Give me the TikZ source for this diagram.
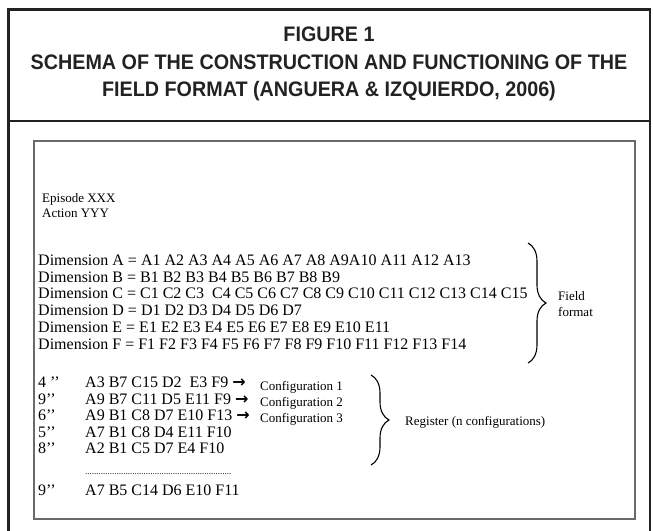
\documentclass[tikz,border=0pt]{standalone}
\usepackage{fontspec}
\setmainfont{Liberation Serif}
\newfontfamily\titlefont[FakeStretch=0.94]{Liberation Sans}
\newfontfamily\arrowfont{DejaVu Sans}
\usetikzlibrary{decorations.pathreplacing}
\definecolor{framec}{HTML}{222222}
\definecolor{boxc}{HTML}{6A6A6A}
\begin{document}
\begin{tikzpicture}[x=1pt,y=-1pt,
  title/.style={inner sep=0pt,anchor=base,font=\titlefont\bfseries\fontsize{21}{21}\selectfont,text=framec},
  dimtext/.style={inner sep=0pt,anchor=base west,font=\fontsize{16}{17}\selectfont},
  smalltext/.style={inner sep=0pt,anchor=base west,font=\fontsize{13}{14}\selectfont},
  bracestyle/.style={decorate,decoration={brace,amplitude=18pt},line width=1.1pt}]
\useasboundingbox (0,0) rectangle (653,530);
% outer frame
\draw[framec,line width=2.6pt] (8.5,540) -- (8.5,9.5) -- (650,9.5) -- (650,540);
\draw[framec,line width=2.6pt] (8.5,121) -- (650,121);
% inner box
\draw[boxc,line width=1.5pt] (34,141) rectangle (635,519);
% title
\node[title] (t1) at (329,41) {FIGURE 1};
\node[title] (t2) at (329,69) {SCHEMA OF THE CONSTRUCTION AND FUNCTIONING OF THE};
\node[title] (t3) at (329,96) {FIELD FORMAT (ANGUERA \& IZQUIERDO, 2006)};
% episode
\node[smalltext] (ep) at (42,202) {Episode XXX};
\node[smalltext] (ac) at (42,217) {Action YYY};
% dimensions
\node[dimtext] (da) at (38,265) {Dimension A = A1 A2 A3 A4 A5 A6 A7 A8 A9A10 A11 A12 A13};
\node[dimtext] (db) at (38,282) {Dimension B = B1 B2 B3 B4 B5 B6 B7 B8 B9};
\node[dimtext] (dc) at (38,298) {Dimension C = C1 C2 C3~ C4 C5 C6 C7 C8 C9 C10 C11 C12 C13 C14 C15};
\node[dimtext] (dd) at (38,315) {Dimension D = D1 D2 D3 D4 D5 D6 D7};
\node[dimtext] (de) at (38,332) {Dimension E = E1 E2 E3 E4 E5 E6 E7 E8 E9 E10 E11};
\node[dimtext] (df) at (38,349) {Dimension F = F1 F2 F3 F4 F5 F6 F7 F8 F9 F10 F11 F12 F13 F14};
% field brace
\coordinate (fb1) at (528,243);
\coordinate (fb2) at (528,363);
\draw[bracestyle] (fb1) -- (fb2);
\node[smalltext] (ff1) at (558,300) {Field};
\node[smalltext] (ff2) at (558,316) {format};
% register rows
\node[dimtext] (r1t) at (38,387) {4 ’’};
\node[dimtext] (r2t) at (38,404) {9’’};
\node[dimtext] (r3t) at (38,420) {6’’};
\node[dimtext] (r4t) at (38,437) {5’’};
\node[dimtext] (r5t) at (38,453) {8’’};
\node[dimtext] (r6t) at (38,495) {9’’};
\node[dimtext] (r1) at (85,387) {A3 B7 C15 D2~ E3 F9 {\arrowfont\bfseries\fontsize{16}{16}\selectfont →}};
\node[dimtext] (r2) at (85,404) {A9 B7 C11 D5 E11 F9 {\arrowfont\bfseries\fontsize{16}{16}\selectfont →}};
\node[dimtext] (r3) at (85,420) {A9 B1 C8 D7 E10 F13 {\arrowfont\bfseries\fontsize{16}{16}\selectfont →}};
\node[dimtext] (r4) at (85,437) {A7 B1 C8 D4 E11 F10};
\node[dimtext] (r5) at (85,453) {A2 B1 C5 D7 E4 F10};
\node[inner sep=0pt,anchor=base west,font=\fontsize{9}{10}\selectfont] (dots) at (85,474) {.................................................................};
\node[dimtext] (r6) at (85,495) {A7 B5 C14 D6 E10 F11};
\node[smalltext] (c1) at (260,390.5) {Configuration 1};
\node[smalltext] (c2) at (260,406.5) {Configuration 2};
\node[smalltext] (c3) at (260,422.5) {Configuration 3};
% register brace
\coordinate (rb1) at (371,375);
\coordinate (rb2) at (371,465);
\draw[bracestyle] (rb1) -- (rb2);
\node[smalltext] (reg) at (405,425) {Register (n configurations)};
\end{tikzpicture}
\end{document}
